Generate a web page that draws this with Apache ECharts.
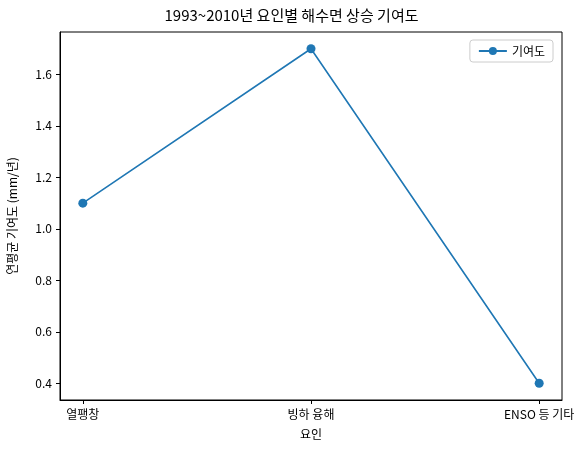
<!DOCTYPE html>
<html><head><meta charset="utf-8">
<script src="https://cdn.jsdelivr.net/npm/echarts@6/dist/echarts.min.js"></script>
<style>html,body{margin:0;padding:0;background:#fff}#c{width:583px;height:454px}</style>
</head><body><div id="c"></div>
<script>
const categories = ['열팽창', '빙하 융해', 'ENSO 등 기타'];
const values = [1.1, 1.7, 0.4];
const yTicks = [0.4, 0.6, 0.8, 1.0, 1.2, 1.4, 1.6];
const F = '"Noto Sans CJK KR","DejaVu Sans",sans-serif';
const chart = echarts.init(document.getElementById('c'));
chart.setOption({
  animation: false,
  title: {text: '1993~2010년 요인별 해수면 상승 기여도', left: 'center', top: 3,
    textStyle: {fontFamily: F, fontSize: 15, fontWeight: 'normal', color: '#000'}},
  legend: {data: ['기여도'], right: 30, top: 40, orient: 'vertical',
    borderColor: '#ccc', borderWidth: 1, borderRadius: 3, padding: [5, 8],
    itemWidth: 28, itemHeight: 10, textStyle: {fontFamily: F, fontSize: 12, color: '#000'}},
  grid: {left: 60, right: 21, top: 32, bottom: 54, outerBoundsMode: 'none', containLabel: false},
  xAxis: {type: 'value', min: -0.1, max: 2.1, interval: 1,
    name: '요인', nameLocation: 'middle', nameGap: 28,
    nameTextStyle: {fontFamily: F, fontSize: 12, color: '#000'},
    axisLine: {show: true, onZero: false, lineStyle: {color: '#000'}},
    axisTick: {show: true, length: 4, customValues: [0, 1, 2], lineStyle: {color: '#000'}},
    splitLine: {show: false},
    axisLabel: {fontFamily: F, fontSize: 12, color: '#000',
      customValues: [0, 1, 2], formatter: v => categories[Math.round(v)] ?? ''}},
  yAxis: {type: 'value', min: 0.335, max: 1.765,
    name: '연평균 기여도 (mm/년)', nameLocation: 'middle', nameGap: 42,
    nameTextStyle: {fontFamily: F, fontSize: 12, color: '#000'},
    axisLine: {show: true, onZero: false, lineStyle: {color: '#000'}},
    axisTick: {show: true, length: 4, customValues: yTicks, lineStyle: {color: '#000'}},
    splitLine: {show: false},
    axisLabel: {fontFamily: F, fontSize: 12, color: '#000', customValues: yTicks, formatter: v => v.toFixed(1)}},
  series: [{name: '기여도', type: 'line', data: values.map((v, i) => [i, v]),
    symbol: 'circle', symbolSize: 9, color: '#1f77b4', lineStyle: {width: 1.6}}],
  graphic: [{type: 'rect', shape: {x: 60, y: 32, width: 502, height: 368},
    style: {fill: 'none', stroke: '#000', lineWidth: 1}, silent: true}]
});
</script></body></html>
